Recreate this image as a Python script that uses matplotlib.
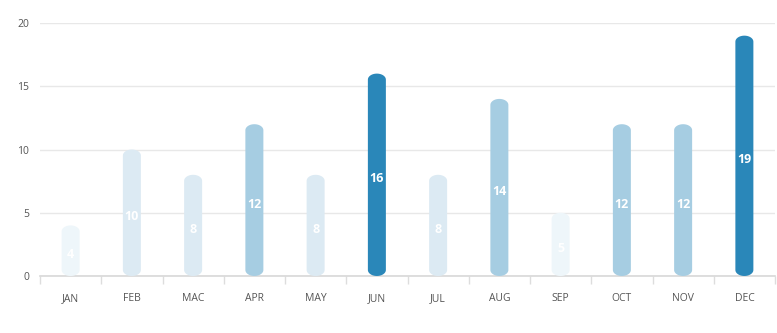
import matplotlib
matplotlib.use("Agg")
import numpy as np
import matplotlib.pyplot as plt
from matplotlib.patches import Polygon

months = ["JAN", "FEB", "MAC", "APR", "MAY", "JUN", "JUL", "AUG", "SEP", "OCT", "NOV", "DEC"]
values = [4, 10, 8, 12, 8, 16, 8, 14, 5, 12, 12, 19]
y_ticks = [0, 5, 10, 15, 20]


def bar_color(v):
    if v >= 16:
        return "#2a87b9"
    if v >= 12:
        return "#a6cde2"
    if v >= 8:
        return "#dceaf3"
    return "#eef6fa"


plt.rcParams["font.family"] = ["Open Sans", "DejaVu Sans"]

W, H = 777, 333
fig = plt.figure(figsize=(W / 100, H / 100), dpi=100)
left, right, bottom, top = 40, 775, 276, 23
ax = fig.add_axes([left / W, (H - bottom) / H, (right - left) / W, (bottom - top) / H])

n = len(months)
ax.set_xlim(-0.5, n - 0.5)
ax.set_ylim(0, 20)

px_per_x = (right - left) / n
px_per_y = (bottom - top) / 20
bar_px = 18
half_w = bar_px / 2 / px_per_x
cap_h = 6 / px_per_y  # cap height in data units


def capsule(xc, v):
    """Outline of a bar with rounded caps at both ends, spanning 0..v."""
    t = np.linspace(0, np.pi, 24)
    top_x = xc + half_w * np.cos(t)
    top_y = v - cap_h + cap_h * np.sin(t)
    bot_x = xc - half_w * np.cos(t)
    bot_y = cap_h - cap_h * np.sin(t)
    return np.column_stack([np.r_[top_x, bot_x], np.r_[top_y, bot_y]])


for i, v in enumerate(values):
    ax.add_patch(Polygon(capsule(i, v), closed=True, facecolor=bar_color(v),
                         edgecolor="none", zorder=3))
    ax.annotate(str(v), (i, v / 2), xytext=(0, -3), textcoords="offset points",
                ha="center", va="center", color="white",
                fontsize=9, fontweight="bold", zorder=4)

ax.set_yticks(y_ticks)
ax.set_yticklabels([str(t) for t in y_ticks], fontsize=7.5, color="#555555")
ax.yaxis.grid(True, color="#e8e8e8", linewidth=1, zorder=0)
ax.tick_params(axis="y", length=0, pad=8)

ax.set_xticks(range(n))
ax.set_xticklabels(months, fontsize=7.5, color="#555555")
ax.tick_params(axis="x", length=0, pad=12)
ax.set_xticks([i - 0.5 for i in range(n + 1)], minor=True)
ax.tick_params(axis="x", which="minor", length=6, color="#dddddd", width=1)

for s in ["top", "right", "left"]:
    ax.spines[s].set_visible(False)
ax.spines["bottom"].set_color("#d8d8d8")
ax.spines["bottom"].set_linewidth(1.2)
ax.set_axisbelow(True)

fig.savefig("out.png", dpi=100)
